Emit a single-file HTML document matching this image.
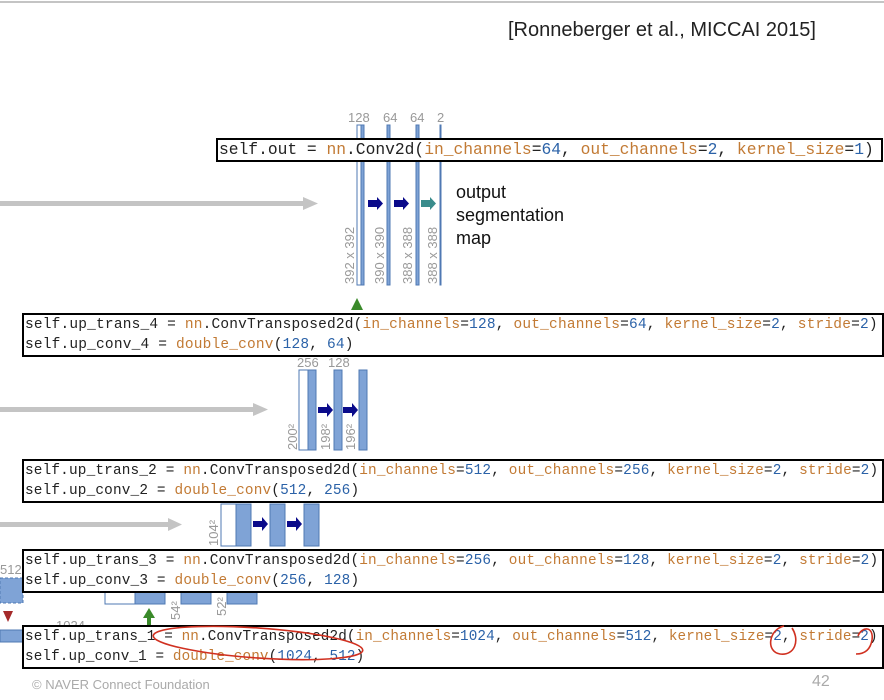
<!DOCTYPE html>
<html><head><style>
body{margin:0;width:884px;height:700px;background:#fff;position:relative;overflow:hidden;font-family:"Liberation Sans",sans-serif}
.box{position:absolute;border:2px solid #000;background:#fff;font-family:"Liberation Mono",monospace;font-size:14.5px;line-height:20px;white-space:pre;color:#222;padding-left:1px;overflow:hidden}
.o{color:#c27a34}.b{color:#2b62a8}
svg{position:absolute;left:0;top:0}
</style></head><body>
<svg width="884" height="700">
<line x1="0" y1="2" x2="884" y2="2" stroke="#888" stroke-width="1"/>
<g fill="#c4c4c4"><rect x="0" y="201" width="305" height="5"/><polygon points="303,197 318,203.5 303,210"/>
<rect x="0" y="407" width="255" height="5"/><polygon points="253,403 268,409.5 253,416"/>
<rect x="0" y="522" width="170" height="5"/><polygon points="168,518 182,524.5 168,531"/></g>
<g fill="#7fa3d6" stroke="#4f78b3" stroke-width="1">
<rect x="357" y="125" width="4" height="160" fill="#fff"/><rect x="361" y="125" width="3" height="160"/>
<rect x="387" y="125" width="3" height="160"/><rect x="416" y="125" width="3" height="160"/><rect x="440" y="125" width="1" height="160"/>
<rect x="299" y="370" width="9" height="80" fill="#fff"/><rect x="308" y="370" width="8" height="80"/>
<rect x="334" y="370" width="8" height="80"/><rect x="359" y="370" width="8" height="80"/>
<rect x="221" y="504" width="15" height="42" fill="#fff"/><rect x="236" y="504" width="15" height="42"/>
<rect x="270" y="504" width="15" height="42"/><rect x="304" y="504" width="15" height="42"/>
<rect x="105" y="588" width="30" height="16" fill="#fff"/><rect x="135" y="588" width="30" height="16"/>
<rect x="181" y="588" width="30" height="16"/><rect x="227" y="588" width="30" height="16"/>
<rect x="0" y="578" width="23" height="25" stroke-dasharray="3,2"/><rect x="0" y="630" width="23" height="12"/>
</g>
<g fill="#0a0a8a"><polygon points="368,200 377,200 377,197 383,203.5 377,210 377,207 368,207"/>
<polygon points="394,200 403,200 403,197 409,203.5 403,210 403,207 394,207"/>
<polygon points="318,407 327,407 327,403 333,410 327,417 327,413 318,413"/>
<polygon points="343,407 352,407 352,403 358,410 352,417 352,413 343,413"/>
<polygon points="253,521 262,521 262,517 268,524 262,531 262,527 253,527"/>
<polygon points="287,521 296,521 296,517 302,524 296,531 296,527 287,527"/></g>
<polygon points="421,200 430,200 430,197 436,203.5 430,210 430,207 421,207" fill="#3a8c8c"/>
<polygon points="357,298 363,310 351,310" fill="#3a8a2a"/>
<polygon points="149,608 155,618 143,618" fill="#3a8a2a"/><rect x="147" y="617" width="4" height="8" fill="#3a8a2a"/>
<polygon points="3,611 13,611 8,622" fill="#a52a2a"/>
<g fill="#999" font-size="13" font-family="Liberation Sans">
<text x="348" y="122">128</text><text x="383" y="122">64</text><text x="410" y="122">64</text><text x="437" y="122">2</text>
<text x="297" y="367">256</text><text x="328" y="367">128</text><text x="56" y="630">1024</text><text x="0" y="574">512</text>
<text transform="translate(354,284) rotate(-90)">392 x 392</text><text transform="translate(384,284) rotate(-90)">390 x 390</text>
<text transform="translate(412,284) rotate(-90)">388 x 388</text><text transform="translate(437,284) rotate(-90)">388 x 388</text>
<text transform="translate(297,450) rotate(-90)">200²</text><text transform="translate(330,450) rotate(-90)">198²</text><text transform="translate(355,450) rotate(-90)">196²</text>
<text transform="translate(218,546) rotate(-90)">104²</text><text transform="translate(180,620) rotate(-90)">54²</text><text transform="translate(226,616) rotate(-90)">52²</text>
</g>
<g font-size="18" fill="#111"><text x="456" y="198">output</text><text x="456" y="221">segmentation</text><text x="456" y="244">map</text></g>
<text x="508" y="36" font-size="20" fill="#222">[Ronneberger et al., MICCAI 2015]</text>
<text x="32" y="689" font-size="13" fill="#aaa">© NAVER Connect Foundation</text>
<text x="812" y="686" font-size="16" fill="#aaa">42</text>
</svg>
<div class="box" style="left:216px;top:138px;width:662px;height:20px;font-size:16.3px"><span>self.out = </span><span class="o">nn</span>.Conv2d(<span class="o">in_channels</span>=<span class="b">64</span>, <span class="o">out_channels</span>=<span class="b">2</span>, <span class="o">kernel_size</span>=<span class="b">1</span>)</div>
<div class="box" style="left:22px;top:313px;width:857px;height:40px;letter-spacing:0.18px">self.up_trans_4 = <span class="o">nn</span>.ConvTransposed2d(<span class="o">in_channels</span>=<span class="b">128</span>, <span class="o">out_channels</span>=<span class="b">64</span>, <span class="o">kernel_size</span>=<span class="b">2</span>, <span class="o">stride</span>=<span class="b">2</span>)
self.up_conv_4 = <span class="o">double_conv</span>(<span class="b">128</span>, <span class="b">64</span>)</div>
<div class="box" style="left:22px;top:459px;width:857px;height:40px;font-size:14.4px;letter-spacing:0.16px">self.up_trans_2 = <span class="o">nn</span>.ConvTransposed2d(<span class="o">in_channels</span>=<span class="b">512</span>, <span class="o">out_channels</span>=<span class="b">256</span>, <span class="o">kernel_size</span>=<span class="b">2</span>, <span class="o">stride</span>=<span class="b">2</span>)
self.up_conv_2 = <span class="o">double_conv</span>(<span class="b">512</span>, <span class="b">256</span>)</div>
<div class="box" style="left:22px;top:549px;width:857px;height:40px;font-size:14.4px;letter-spacing:0.16px">self.up_trans_3 = <span class="o">nn</span>.ConvTransposed2d(<span class="o">in_channels</span>=<span class="b">256</span>, <span class="o">out_channels</span>=<span class="b">128</span>, <span class="o">kernel_size</span>=<span class="b">2</span>, <span class="o">stride</span>=<span class="b">2</span>)
self.up_conv_3 = <span class="o">double_conv</span>(<span class="b">256</span>, <span class="b">128</span>)</div>
<div class="box" style="left:22px;top:625px;width:857px;height:40px;font-size:14.3px;letter-spacing:0.12px">self.up_trans_1 = <span class="o">nn</span>.ConvTransposed2d(<span class="o">in_channels</span>=<span class="b">1024</span>, <span class="o">out_channels</span>=<span class="b">512</span>, <span class="o">kernel_size</span>=<span class="b">2</span>, <span class="o">stride</span>=<span class="b">2</span>)
self.up_conv_1 = <span class="o">double_conv</span>(<span class="b">1024</span>, <span class="b">512</span>)</div>
<svg width="884" height="700" style="pointer-events:none">
<g fill="none" stroke="#d03020" stroke-width="1.6">
<ellipse cx="258" cy="643" rx="105" ry="15" transform="rotate(4 258 643)"/>
<path d="M784,626 C768,630 766,652 780,654 C795,656 800,640 792,628"/>
<path d="M858,636 C862,626 874,626 872,640 C870,652 862,654 856,654"/>
</g></svg>
</body></html>
